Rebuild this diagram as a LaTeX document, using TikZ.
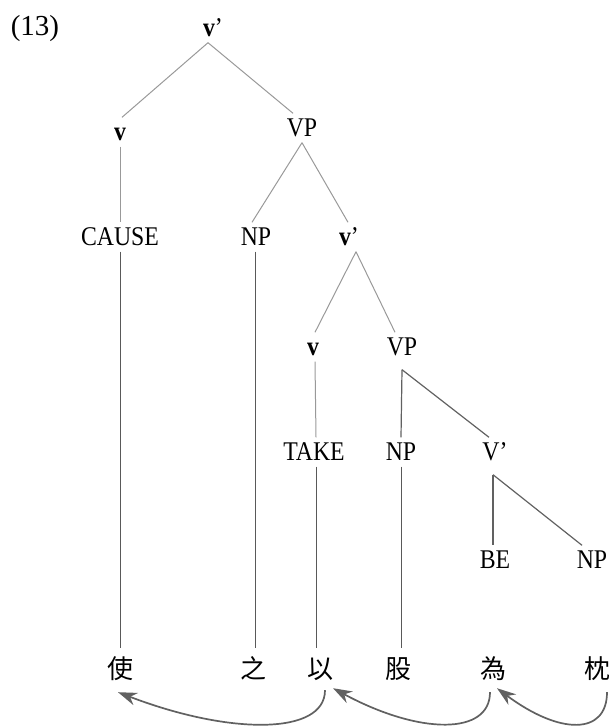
\documentclass[tikz,border=0pt]{standalone}
\usepackage{fontspec}
\setmainfont{Liberation Serif}
\newfontfamily\lab[FakeStretch=0.88]{Liberation Serif}
\newfontfamily\cjk{Noto Sans CJK TC}
\usetikzlibrary{arrows.meta}
\begin{document}
\begin{tikzpicture}[x=1pt,y=-1pt,
  lbl/.style={inner xsep=1pt, inner ysep=6pt, text height=17pt, text depth=0pt,
    font=\lab\fontsize{27}{31}\selectfont},
  ch/.style={inner xsep=0pt, inner ysep=8pt, text height=22.9pt, text depth=3.1pt,
    font=\cjk\fontsize{26}{30}\selectfont},
  tl/.style={draw=black!40, line width=1pt},
  tld/.style={draw=black!62, line width=1.2pt},
  vl/.style={draw=black!65, line width=0.9pt},
  mv/.style={draw=black!62, line width=1.7pt, -{Stealth[length=19pt,width=13pt]}}]
\useasboundingbox (0,0) rectangle (609,728);

\node[lbl, font=\fontsize{29}{33}\selectfont] (num) at (35,27) {(13)};
\node[lbl] (top) at (213,28) {\textbf{v}’};
\node[lbl] (v1) at (120,132) {\textbf{v}};
\node[lbl] (vp1) at (302,128) {VP};
\node[lbl] (cause) at (120,237) {CAUSE};
\node[lbl] (np1) at (256,237) {NP};
\node[lbl] (vb) at (349,237) {\textbf{v}’};
\node[lbl] (v2) at (313,347) {\textbf{v}};
\node[lbl] (vp2) at (402,347) {VP};
\node[lbl] (take) at (314,452) {TAKE};
\node[lbl] (np2) at (401,452) {NP};
\node[lbl] (Vb) at (495,452) {V’};
\node[lbl] (be) at (495,560) {BE};
\node[lbl] (np3) at (592,560) {NP};

\node[ch] (shi) at (120,669) {使};
\node[ch] (zhi) at (253,669) {之};
\node[ch] (yi) at (320,669) {以};
\node[ch] (gu) at (398,669) {股};
\node[ch] (wei) at (493,669) {為};
\node[ch] (zhen) at (597,669) {枕};

% tree edges
\draw[tl] ([xshift=-5pt]top.south) -- ([xshift=2pt]v1.north);
\draw[tl] ([xshift=-5pt]top.south) -- ([xshift=-9pt]vp1.north);
\draw[tl] (v1.south) -- (cause.north);
\draw[tl] (vp1.south) -- ([xshift=-4pt]np1.north);
\draw[tl] (vp1.south) -- ([xshift=-1pt]vb.north);
\draw[tl] ([xshift=7pt]vb.south) -- ([xshift=2pt]v2.north);
\draw[tl] ([xshift=7pt]vb.south) -- ([xshift=-7pt]vp2.north);
\draw[tl] ([xshift=2pt]v2.south) -- ([xshift=2pt]take.north);
\draw[tld] ([yshift=-8pt]vp2.south) -- (np2.north);
\draw[tld] ([yshift=-8pt]vp2.south) -- ([xshift=-6pt]Vb.north);
\draw[tld] ([xshift=-2pt,yshift=-8pt]Vb.south) -- ([xshift=-2pt]be.north);
\draw[tld] ([xshift=-2pt,yshift=-8pt]Vb.south) -- ([xshift=-10pt]np3.north);

% vertical lines to the characters
\draw[vl] (cause.south) -- (cause.south |- shi.north);
\draw[vl] ([xshift=-1pt]np1.south) -- ([xshift=-1pt]np1.south |- zhi.north);
\draw[vl] ([xshift=2pt]take.south) -- ([xshift=2pt]take.south |- yi.north);
\draw[vl] (np2.south) -- (np2.south |- gu.north);

% movement arrows
\draw[mv] ([xshift=5pt]yi.south) .. controls +(0,45) and +(112,43) .. ([xshift=-2pt,yshift=-2pt]shi.south);
\draw[mv] ([xshift=-3pt,yshift=-2pt]wei.south) .. controls +(0,43) and +(87,47) .. ([xshift=13pt,yshift=2pt]yi.south);
\draw[mv] ([xshift=10pt,yshift=-2pt]zhen.south) .. controls +(0,43) and +(63,47) .. ([xshift=4pt,yshift=2pt]wei.south);
\end{tikzpicture}
\end{document}
